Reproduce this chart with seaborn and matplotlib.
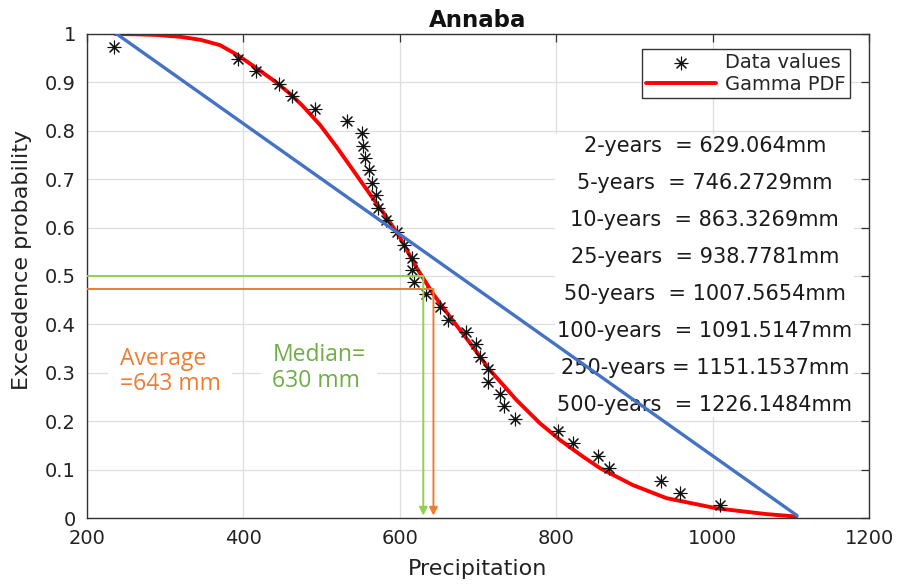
import matplotlib
matplotlib.use("Agg")
import matplotlib.pyplot as plt
import seaborn as sns

# Observed annual precipitation (mm) with their exceedance probabilities
precip_obs = [234, 393, 416, 446, 462, 491, 532, 552, 553, 555, 560, 564, 569,
              572, 582, 596, 605, 615, 616, 618, 634, 651, 662, 684, 698, 702,
              713, 713, 728, 733, 747, 802, 821, 854, 868, 934, 958, 1009]
exceed_obs = [0.974, 0.949, 0.923, 0.897, 0.872, 0.846, 0.821, 0.795, 0.769,
              0.744, 0.718, 0.692, 0.667, 0.641, 0.615, 0.590, 0.564, 0.538,
              0.513, 0.487, 0.462, 0.436, 0.410, 0.385, 0.359, 0.333, 0.308,
              0.282, 0.256, 0.231, 0.205, 0.179, 0.154, 0.128, 0.103, 0.077,
              0.051, 0.026]

# Fitted gamma exceedance curve
gamma_x = [236, 260, 290, 320, 345, 370, 393, 417, 442, 460, 476, 498, 519,
           540, 564, 582, 600, 621, 643, 664, 690, 715, 749, 779, 805, 834,
           856, 898, 941, 1005, 1069, 1107]
gamma_y = [1.000, 0.9995, 0.998, 0.994, 0.988, 0.977, 0.956, 0.929, 0.900,
           0.876, 0.851, 0.812, 0.767, 0.719, 0.664, 0.624, 0.580, 0.518,
           0.462, 0.416, 0.361, 0.306, 0.244, 0.196, 0.161, 0.127, 0.103,
           0.068, 0.041, 0.020, 0.008, 0.003]

# Straight reference line
ref_x = [238, 1108]
ref_y = [1.0, 0.005]

# Return levels
return_periods = ["2-years  ", "5-years  ", "10-years  ", "25-years  ",
                  "50-years  ", "100-years  ", "250-years ", "500-years  "]
return_levels = ["629.064", "746.2729", "863.3269", "938.7781",
                 "1007.5654", "1091.5147", "1151.1537", "1226.1484"]

# Mean / median markers
average_mm = 643
median_mm = 630
average_exceed = 0.473
median_exceed = 0.5

x_ticks = [200, 400, 600, 800, 1000, 1200]
y_ticks = [0, 0.1, 0.2, 0.3, 0.4, 0.5, 0.6, 0.7, 0.8, 0.9, 1.0]
y_tick_labels = ["0", "0.1", "0.2", "0.3", "0.4", "0.5", "0.6", "0.7",
                 "0.8", "0.9", "1"]

sns.set_theme(style="white")
plt.rcParams["font.family"] = ["DejaVu Sans"]

ORANGE = "#ED7D31"
GREEN = "#92D050"
GREEN_TXT = "#70AD47"
BLUE = "#4472C4"
AX_COL = "#333333"

fig = plt.figure(figsize=(9, 5.84), dpi=100)
ax = fig.add_axes([0.0967, 0.113, 0.8689, 0.8288])

ax.set_xlim(x_ticks[0], x_ticks[-1])
ax.set_ylim(y_ticks[0], y_ticks[-1])

sns.lineplot(x=gamma_x, y=gamma_y, color="red", linewidth=2.8, ax=ax,
             label="Gamma PDF", zorder=2, sort=False)
sns.scatterplot(x=precip_obs, y=exceed_obs, marker=(8, 2, 0), s=85,
                color="#111111", linewidth=0.8, ax=ax, label="Data values",
                zorder=3)
sns.lineplot(x=ref_x, y=ref_y, color=BLUE, linewidth=2.4, ax=ax, zorder=5,
             sort=False)

# Median and average guide lines with arrows down to the axis
x0 = x_ticks[0]
ax.plot([x0, median_mm], [median_exceed, median_exceed], color=GREEN,
        lw=1.4, zorder=6)
ax.plot([x0, average_mm], [average_exceed, average_exceed], color=ORANGE,
        lw=1.4, zorder=6)
ax.annotate("", xy=(median_mm, 0.005), xytext=(median_mm, median_exceed),
            arrowprops=dict(arrowstyle="-|>", color=GREEN, lw=1.4,
                            mutation_scale=12, shrinkA=0, shrinkB=0),
            zorder=6)
ax.annotate("", xy=(average_mm, 0.005), xytext=(average_mm, average_exceed),
            arrowprops=dict(arrowstyle="-|>", color=ORANGE, lw=1.4,
                            mutation_scale=12, shrinkA=0, shrinkB=0),
            zorder=6)

ax.text(242, 0.303, f"Average\n={average_mm} mm", color=ORANGE,
        fontsize=16.5, family=["Open Sans", "DejaVu Sans"], ha="left",
        va="center", linespacing=1.05, zorder=4,
        bbox=dict(boxstyle="square,pad=0.5", fc="white", ec="none"))
ax.text(437, 0.310, f"Median=\n{median_mm} mm", color=GREEN_TXT,
        fontsize=16.5, family=["Open Sans", "DejaVu Sans"], ha="left",
        va="center", linespacing=1.15, zorder=4,
        bbox=dict(boxstyle="square,pad=0.5", fc="white", ec="none"))

# Return level table
rl_text = "\n".join(f"{p}= {v}mm" for p, v in zip(return_periods, return_levels))
ax.text(990, 0.501, rl_text, fontsize=15, ha="center", va="center",
        multialignment="center", linespacing=2.06, color="#1a1a1a", zorder=4,
        bbox=dict(boxstyle="square,pad=0.1", fc="white", ec="none"))

# Axes styling
ax.set_xticks(x_ticks)
ax.set_yticks(y_ticks)
ax.set_yticklabels(y_tick_labels)
ax.grid(True, color="#dedede", linewidth=0.9)
ax.set_axisbelow(True)
ax.tick_params(direction="in", length=6, width=0.9, top=True, right=True,
               labelsize=14, colors=AX_COL, pad=8)
ax.tick_params(axis="x", labelcolor="#222222")
ax.tick_params(axis="y", labelcolor="#222222")
for sp in ax.spines.values():
    sp.set_color(AX_COL)
    sp.set_linewidth(1.0)

ax.set_title("Annaba", fontsize=16.5, fontweight="bold", pad=5,
             color="#111111")
ax.set_xlabel("Precipitation", fontsize=16, color="#222222", labelpad=8)
ax.set_ylabel("Exceedence probability", fontsize=16, color="#222222")
ax.yaxis.set_label_coords(-0.070, 0.533)

handles, labels = ax.get_legend_handles_labels()
order = [labels.index("Data values"), labels.index("Gamma PDF")]
leg = ax.legend([handles[i] for i in order], [labels[i] for i in order],
                loc="upper right", bbox_to_anchor=(0.9757, 0.969),
                borderaxespad=0, fontsize=14, handlelength=3.6,
                handletextpad=0.45, labelspacing=0.15, borderpad=0.22,
                fancybox=False, framealpha=1, edgecolor="#333333")
leg.get_frame().set_linewidth(1.0)
leg.set_zorder(7)

fig.savefig("out.png", dpi=100)
